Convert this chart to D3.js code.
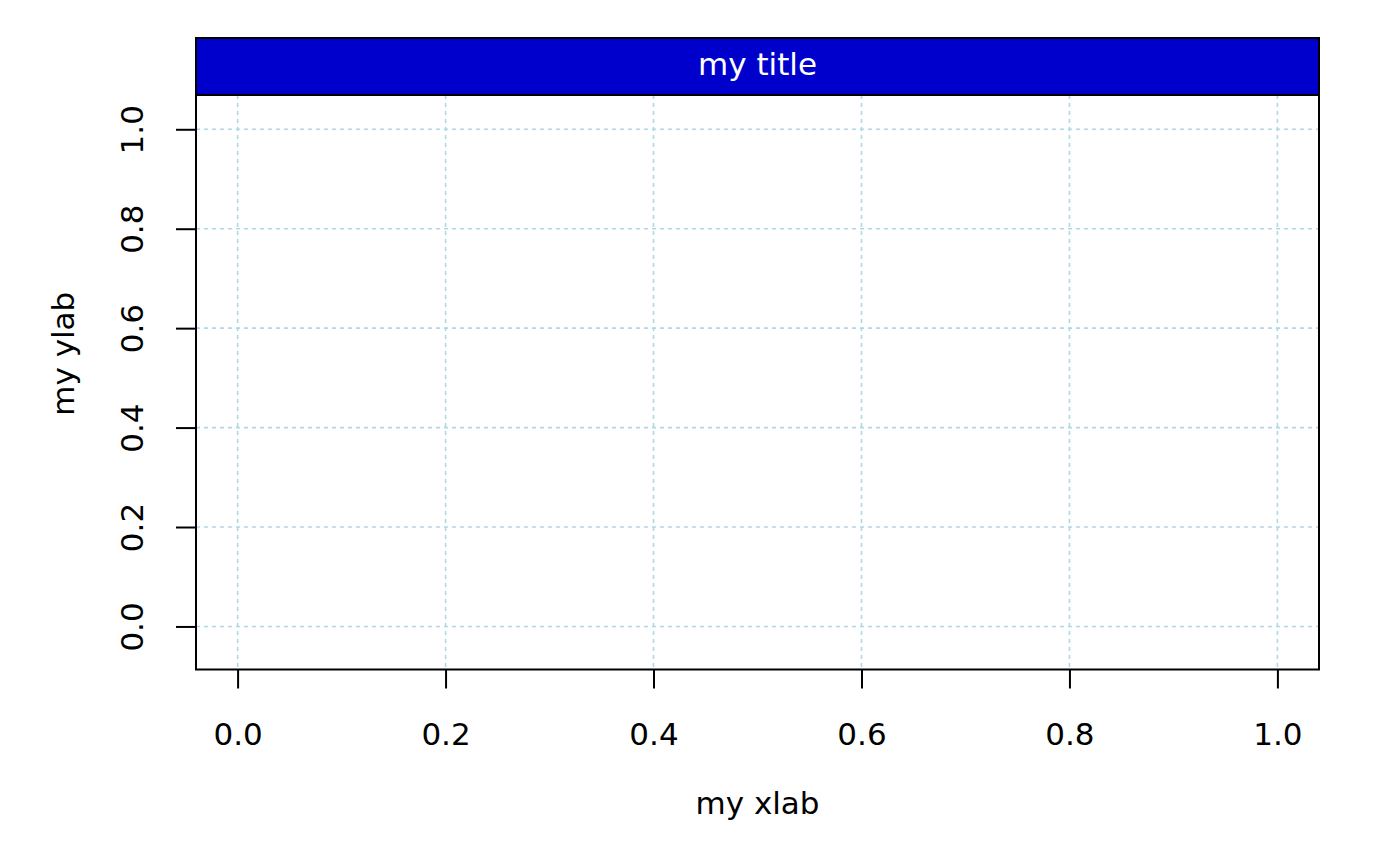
<!DOCTYPE html>
<html><head><meta charset="utf-8">
<script src="https://cdn.jsdelivr.net/npm/d3@7"></script>
<style>body{margin:0;background:#fff;} svg{display:block;} text{font-family:"DejaVu Sans",sans-serif;}</style>
</head><body>
<svg id="chart" width="1400" height="866"></svg>
<script>
const title = "my title";
const xLabel = "my xlab";
const yLabel = "my ylab";
const xTicks = [0, 0.2, 0.4, 0.6, 0.8, 1.0];
const yTicks = [0, 0.2, 0.4, 0.6, 0.8, 1.0];
const xDomain = [-0.04, 1.04];
const yDomain = [-0.0866, 1.1836];

(function () {
const svg = d3.select("#chart");
const mLeft = 196, mRight = 1319, mTop = 38, mBottom = 669.5, stripBottom = 95;
const fs = 31;

const x = d3.scaleLinear().domain(xDomain).range([mLeft, mRight]);
const y = d3.scaleLinear().domain(yDomain).range([mBottom, mTop]);

// grid
const grid = svg.append("g").attr("stroke", "#ADD8E6").attr("stroke-width", 1.6).attr("stroke-dasharray", "4,4");
grid.selectAll("line.v").data(xTicks).join("line").attr("class", "v")
  .attr("x1", d => x(d)).attr("x2", d => x(d)).attr("y1", stripBottom).attr("y2", mBottom);
grid.selectAll("line.h").data(yTicks).join("line").attr("class", "h")
  .attr("x1", mLeft).attr("x2", mRight).attr("y1", d => y(d)).attr("y2", d => y(d));

// title strip
svg.append("rect").attr("x", mLeft).attr("y", mTop).attr("width", mRight - mLeft).attr("height", stripBottom - mTop)
  .attr("fill", "#0000CD").attr("stroke", "#000").attr("stroke-width", 2);
svg.append("text").attr("x", (mLeft + mRight) / 2).attr("y", 75).attr("text-anchor", "middle")
  .attr("fill", "#fff").attr("font-size", fs).text(title);

// box
svg.append("rect").attr("x", mLeft).attr("y", mTop).attr("width", mRight - mLeft).attr("height", mBottom - mTop)
  .attr("fill", "none").attr("stroke", "#000").attr("stroke-width", 2);

// x axis
const xAxis = d3.axisBottom(x).tickValues(xTicks).tickSize(19).tickPadding(0).tickFormat(d3.format(".1f"));
const gx = svg.append("g").attr("transform", `translate(0,${mBottom})`).call(xAxis);
gx.select(".domain").remove();
gx.selectAll(".tick line").attr("stroke", "#000").attr("stroke-width", 2);
gx.selectAll(".tick text").attr("font-size", fs).attr("fill", "#000").attr("dy", null).attr("y", 745 - mBottom)
  .attr("font-family", '"DejaVu Sans",sans-serif');

// y axis
const yAxis = d3.axisLeft(y).tickValues(yTicks).tickSize(20).tickPadding(0).tickFormat(d3.format(".1f"));
const gy = svg.append("g").attr("transform", `translate(${mLeft},0)`).call(yAxis);
gy.select(".domain").remove();
gy.selectAll(".tick line").attr("stroke", "#000").attr("stroke-width", 2);
gy.selectAll(".tick text").attr("font-size", fs).attr("fill", "#000").attr("dy", null)
  .attr("x", null).attr("text-anchor", "middle")
  .attr("transform", `translate(${143 - mLeft},0) rotate(-90)`)
  .attr("font-family", '"DejaVu Sans",sans-serif');

// axis labels
svg.append("text").attr("x", x(0.5)).attr("y", 814).attr("text-anchor", "middle").attr("font-size", fs).text(xLabel);
svg.append("text").attr("transform", `translate(74,${(mTop + mBottom) / 2}) rotate(-90)`).attr("text-anchor", "middle")
  .attr("font-size", fs).text(yLabel);
})();
</script>
</body></html>
